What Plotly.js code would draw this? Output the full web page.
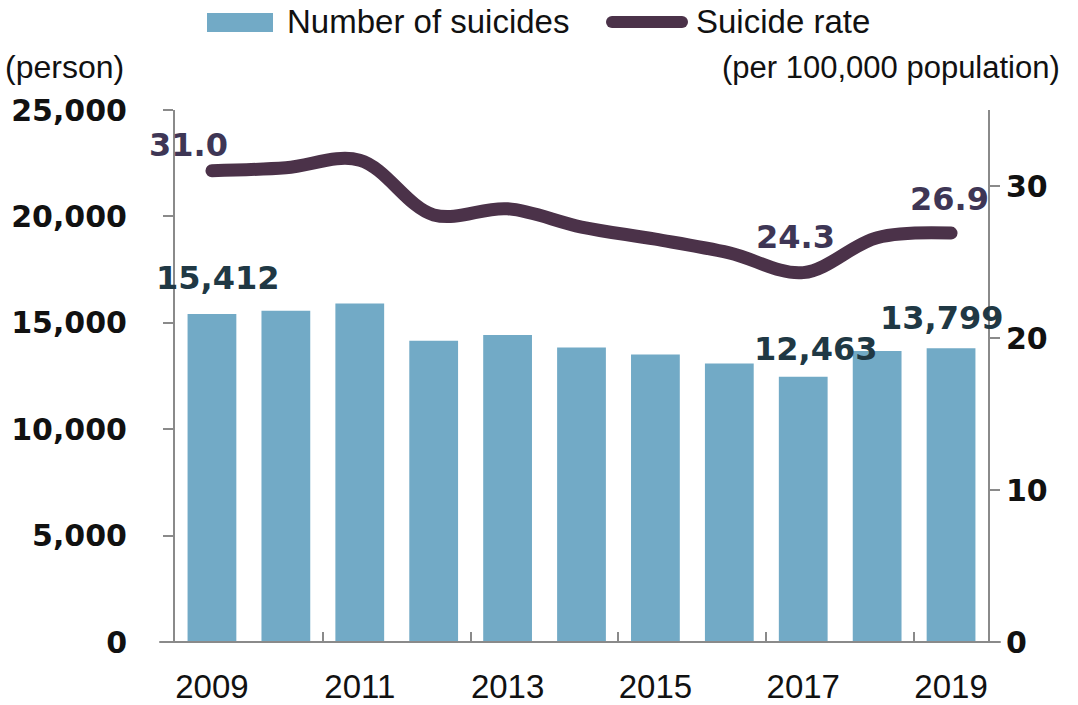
<!DOCTYPE html>
<html>
<head>
<meta charset="utf-8">
<script src="https://cdn.plot.ly/plotly-3.0.1.min.js"></script>
<style>
  html, body { margin: 0; padding: 0; background: #fff; }
  #chart { width: 1078px; height: 705px; }
  .scatterlayer .js-line { stroke-linecap: round; stroke-linejoin: round; }
  .shapelayer path { stroke-linecap: round; }
</style>
</head>
<body>
<div id="chart"></div>
<script>
// ---- data ----
var years = [2009, 2010, 2011, 2012, 2013, 2014, 2015, 2016, 2017, 2018, 2019];
var suicides = [15412, 15566, 15906, 14160, 14427, 13836, 13513, 13092, 12463, 13670, 13799];
var rate = [31.0, 31.2, 31.7, 28.1, 28.5, 27.3, 26.5, 25.6, 24.3, 26.6, 26.9];
var xTickYears = [2009, 2011, 2013, 2015, 2017, 2019];
var leftTicks = [0, 5000, 10000, 15000, 20000, 25000];
var rightTicks = [0, 10, 20, 30];
var labelBarIdx = [0, 8, 10];
var labelRateIdx = [0, 8, 10];

// ---- layout helpers (pixel -> paper) ----
var W = 1078, H = 705;
var M = {l: 175, r: 90, t: 110, b: 63};
var PW = W - M.l - M.r, PH = H - M.t - M.b;
function px(x) { return (x - M.l) / PW; }
function py(y) { return (H - M.b - y) / PH; }

var barColor = '#72aac6';
var lineColor = '#4b3249';

var traces = [
  {
    type: 'bar', x: years, y: suicides, name: 'Number of suicides',
    marker: {color: barColor}, width: 0.66, hoverinfo: 'x+y'
  },
  {
    type: 'scatter', mode: 'lines', x: years, y: rate, yaxis: 'y2', name: 'Suicide rate',
    line: {color: lineColor, width: 13, shape: 'spline', smoothing: 1}, hoverinfo: 'x+y'
  }
];

function fmt(n) { return n.toLocaleString('en-US'); }

var annotations = [];
var barShift = {0: {x: 6, y: 36}, 8: {x: 12, y: 28}, 10: {x: -10, y: 30}};
labelBarIdx.forEach(function (i) {
  annotations.push({
    x: years[i], y: suicides[i], xref: 'x', yref: 'y', text: fmt(suicides[i]),
    showarrow: false, xshift: barShift[i].x, yshift: barShift[i].y,
    font: {family: 'DejaVu Sans', size: 32, color: '#203844', weight: 'bold'}
  });
});
var rateShift = {0: {x: -23, y: 26}, 8: {x: -8, y: 36}, 10: {x: -2, y: 34}};
labelRateIdx.forEach(function (i) {
  annotations.push({
    x: years[i], y: rate[i], xref: 'x', yref: 'y2', text: rate[i].toFixed(1),
    showarrow: false, xshift: rateShift[i].x, yshift: rateShift[i].y,
    font: {family: 'DejaVu Sans', size: 32, color: '#3e3655', weight: 'bold'}
  });
});
// unit labels
annotations.push({
  xref: 'paper', yref: 'paper', x: px(3), y: py(67), xanchor: 'left', yanchor: 'middle',
  text: '(person)', showarrow: false,
  font: {family: 'Liberation Sans', size: 32, color: '#111'}
});
annotations.push({
  xref: 'paper', yref: 'paper', x: px(1062), y: py(67), xanchor: 'right', yanchor: 'middle',
  text: '(per 100,000 population)', showarrow: false,
  font: {family: 'Liberation Sans', size: 31, color: '#111'}
});
// legend texts
annotations.push({
  xref: 'paper', yref: 'paper', x: px(285), y: py(22), xanchor: 'left', yanchor: 'middle',
  text: traces[0].name, showarrow: false,
  font: {family: 'Liberation Sans', size: 33, color: '#111'}
});
annotations.push({
  xref: 'paper', yref: 'paper', x: px(694), y: py(22), xanchor: 'left', yanchor: 'middle',
  text: traces[1].name, showarrow: false,
  font: {family: 'Liberation Sans', size: 33, color: '#111'}
});

var shapes = [
  // extended x axis baseline
  {type: 'line', xref: 'paper', yref: 'paper', x0: px(160), x1: px(1000), y0: 0, y1: 0,
   line: {color: '#8a8a8a', width: 2}},
  // legend swatches
  {type: 'rect', xref: 'paper', yref: 'paper', x0: px(207), x1: px(273), y0: py(13), y1: py(32),
   fillcolor: barColor, line: {width: 0}},
  {type: 'line', xref: 'paper', yref: 'paper', x0: px(612), x1: px(682), y0: py(22), y1: py(22),
   line: {color: lineColor, width: 12}}
];

var layout = {
  width: W, height: H,
  margin: M,
  paper_bgcolor: '#fff', plot_bgcolor: '#fff',
  showlegend: false,
  bargap: 0.34,
  xaxis: {
    type: 'linear', range: [2008.5, 2019.5],
    tickmode: 'array', tickvals: xTickYears, ticktext: xTickYears.map(String),
    ticks: '', showgrid: false, zeroline: false, showline: false,
    tickfont: {family: 'Liberation Sans', size: 33, color: '#111'},
    ticklabelstandoff: 22,
    minor: {tickmode: 'array', tickvals: [2010.5, 2012.5, 2014.5, 2016.5, 2018.5],
            ticks: 'inside', ticklen: 10, tickwidth: 2, tickcolor: '#8a8a8a', showgrid: false},
    fixedrange: true
  },
  yaxis: {
    range: [0, 25000], tickmode: 'array', tickvals: leftTicks,
    ticktext: leftTicks.map(fmt),
    ticks: 'outside', ticklen: 10, tickwidth: 2, tickcolor: '#8a8a8a',
    showline: true, linecolor: '#8a8a8a', linewidth: 2,
    showgrid: false, zeroline: false,
    tickfont: {family: 'DejaVu Sans', size: 30, color: '#111', weight: 'bold'},
    ticklabelstandoff: 30,
    fixedrange: true
  },
  yaxis2: {
    overlaying: 'y', side: 'right', range: [0, 35],
    tickmode: 'array', tickvals: rightTicks, ticktext: rightTicks.map(String),
    ticks: 'outside', ticklen: 10, tickwidth: 2, tickcolor: '#8a8a8a',
    showline: true, linecolor: '#8a8a8a', linewidth: 2,
    showgrid: false, zeroline: false,
    tickfont: {family: 'DejaVu Sans', size: 30, color: '#111', weight: 'bold'},
    ticklabelstandoff: 0,
    fixedrange: true
  },
  annotations: annotations,
  shapes: shapes
};

Plotly.newPlot('chart', traces, layout, {displayModeBar: false, staticPlot: true});
</script>
</body>
</html>
